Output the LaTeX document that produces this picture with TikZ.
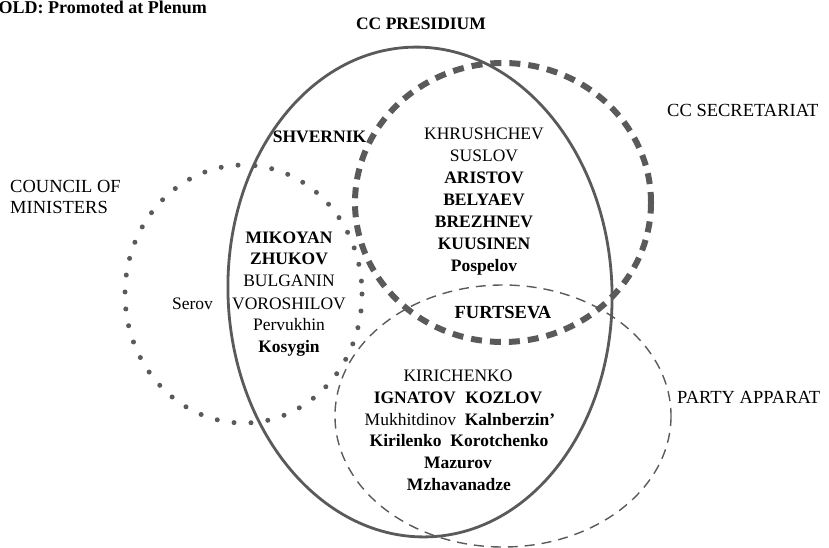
\documentclass[tikz,border=0pt]{standalone}
\usepackage{fontspec}
\setmainfont{Liberation Serif}
\definecolor{ringgray}{HTML}{5A5A5A}
\tikzset{
  nm/.style={inner sep=0pt, anchor=base, font=\fontsize{17.5}{21}\selectfont},
  nb/.style={nm, font=\fontsize{17.5}{21}\selectfont\bfseries},
  lbl/.style={inner sep=0pt, anchor=base west, font=\fontsize{18.5}{21}\selectfont},
  presring/.style={draw=ringgray, line width=2.8pt},
  secring/.style={draw=ringgray, line width=6pt, dash pattern=on 11pt off 8pt},
  minring/.style={draw=ringgray, line width=5pt, line cap=round, dash pattern=on 0pt off 17pt},
  appring/.style={draw=ringgray, line width=1.4pt, dash pattern=on 10pt off 7pt}
}
\begin{document}
\begin{tikzpicture}[x=1pt, y=-1pt]
\useasboundingbox (0,0) rectangle (829,547);
% rings
\draw[presring, rotate around={2.3:(420,292)}] (420,292) ellipse [x radius=192, y radius=245];
\draw[secring] (503,202.5) ellipse [x radius=148, y radius=139.5];
\draw[minring] (243.5,294) ellipse [x radius=118.5, y radius=129];
\draw[appring] (503,416) ellipse [x radius=168, y radius=131];
% titles
\node[inner sep=0pt, anchor=base west, font=\fontsize{18}{21}\selectfont\bfseries] (legend) at (-1.5,13) {OLD: Promoted at Plenum};
\node[nb, font=\fontsize{17.5}{21}\selectfont\bfseries] (pres) at (421,29) {CC PRESIDIUM};
\node[lbl] (sec) at (667,116.5) {CC SECRETARIAT};
\node[lbl] (min1) at (10,192) {COUNCIL OF};
\node[lbl] (min2) at (10,213) {MINISTERS};
\node[lbl] (app) at (677,403) {PARTY APPARAT};
% names
\node[nb] (shvernik) at (319.5,142.7) {SHVERNIK};
\node[nm] (khrushchev) at (484,139) {KHRUSHCHEV};
\node[nm] (suslov) at (484,161.5) {SUSLOV};
\node[nb] (aristov) at (484,183.5) {ARISTOV};
\node[nb] (belyaev) at (484,205.5) {BELYAEV};
\node[nb] (brezhnev) at (484,227.5) {BREZHNEV};
\node[nb] (kuusinen) at (484,249.5) {KUUSINEN};
\node[nb] (pospelov) at (484,271.5) {Pospelov};
\node[nb] (mikoyan) at (289,243.3) {MIKOYAN};
\node[nb] (zhukov) at (289,264.5) {ZHUKOV};
\node[nm] (bulganin) at (289,286.7) {BULGANIN};
\node[nm] (voroshilov) at (289,309.3) {VOROSHILOV};
\node[nm] (pervukhin) at (289,330.5) {Pervukhin};
\node[nb] (kosygin) at (289,352) {Kosygin};
\node[nm] (serov) at (192.5,309.5) {Serov};
\node[nb, font=\fontsize{18.5}{21}\selectfont\bfseries] (furtseva) at (503,318.3) {FURTSEVA};
\node[nm] (kirichenko) at (458,381.7) {KIRICHENKO};
\node[nb] (ignatov) at (458,403.3) {IGNATOV\hspace{0.55em}KOZLOV};
\node[nm] (mukhitdinov) at (460,425.5) {Mukhitdinov\hspace{0.5em}\textbf{Kalnberzin’}};
\node[nb] (kirilenko) at (459,446.7) {Kirilenko\hspace{0.5em}Korotchenko};
\node[nb] (mazurov) at (458,468.3) {Mazurov};
\node[nb] (mzhavanadze) at (459,490) {Mzhavanadze};
\end{tikzpicture}
\end{document}
